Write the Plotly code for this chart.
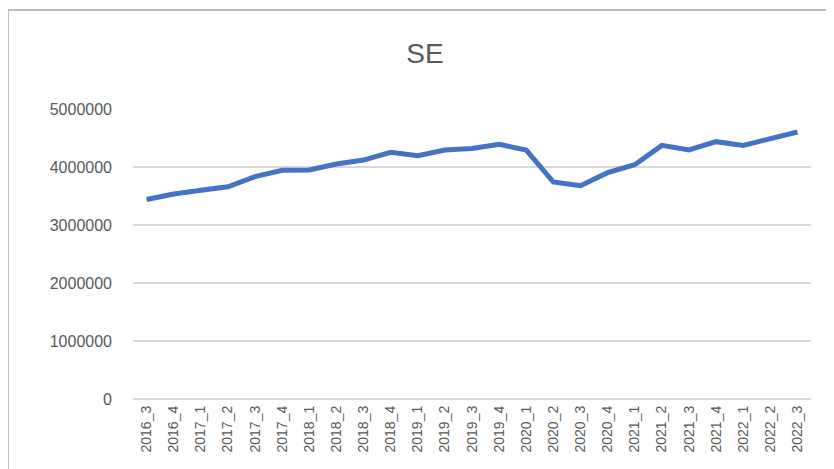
import plotly.graph_objects as go

categories = ["2016_3", "2016_4", "2017_1", "2017_2", "2017_3", "2017_4",
              "2018_1", "2018_2", "2018_3", "2018_4", "2019_1", "2019_2",
              "2019_3", "2019_4", "2020_1", "2020_2", "2020_3", "2020_4",
              "2021_1", "2021_2", "2021_3", "2021_4", "2022_1", "2022_2", "2022_3"]
se_values = [3440000, 3534000, 3598000, 3660000, 3833000, 3943000,
             3948000, 4052000, 4120000, 4253000, 4195000, 4293000,
             4320000, 4390000, 4293000, 3741000, 3678000, 3902000,
             4040000, 4373000, 4293000, 4437000, 4373000, 4494000, 4603000]
y_ticks = [0, 1000000, 2000000, 3000000, 4000000, 5000000]

W, H = 834, 469
OFF = 8  # page body margin offset
L, T = 133 - OFF, 109 - OFF
pw, ph = 678, 290
R, B = W - L - pw, H - T - ph

fig = go.Figure()
fig.add_trace(go.Scatter(
    x=categories, y=se_values, mode="lines",
    line=dict(color="#4472C4", width=5),
    hoverinfo="x+y",
))

def px_x(p):
    return (p - OFF - L) / pw

def px_y(p):
    return (T + ph - (p - OFF)) / ph

fig.add_shape(type="rect", xref="paper", yref="paper",
              x0=px_x(8), x1=px_x(840), y0=px_y(10), y1=px_y(474),
              line=dict(color="#BFBFBF", width=2), fillcolor="rgba(0,0,0,0)",
              layer="below")

fig.update_layout(
    width=W, height=H,
    margin=dict(l=L, r=R, t=T, b=B),
    paper_bgcolor="white", plot_bgcolor="white",
    showlegend=False,
    font=dict(family="Liberation Sans, Arial, sans-serif", color="#595959"),
    title=dict(text="SE", x=(425 - OFF) / W, xanchor="center", xref="container",
               y=1 - (53 - OFF) / H, yanchor="middle", yref="container",
               font=dict(size=28, color="#595959",
                         family="Liberation Sans, Arial, sans-serif")),
    xaxis=dict(
        type="category", tickangle=-90, tickfont=dict(size=14, color="#595959"),
        showgrid=False, showline=False, zeroline=False, ticks="",
        range=[-0.5, len(categories) - 0.5], fixedrange=True,
        ticklabelstandoff=3,
    ),
    yaxis=dict(
        range=[0, 5000000], tickvals=y_ticks,
        ticktext=[str(v) for v in y_ticks],
        tickfont=dict(size=16, color="#595959"),
        showgrid=True, gridcolor="#D9D9D9", gridwidth=1.5,
        zeroline=True, zerolinecolor="#D9D9D9", zerolinewidth=1.5,
        showline=False, ticks="", ticklabelstandoff=20, fixedrange=True,
    ),
)

fig.write_html("out.html")
